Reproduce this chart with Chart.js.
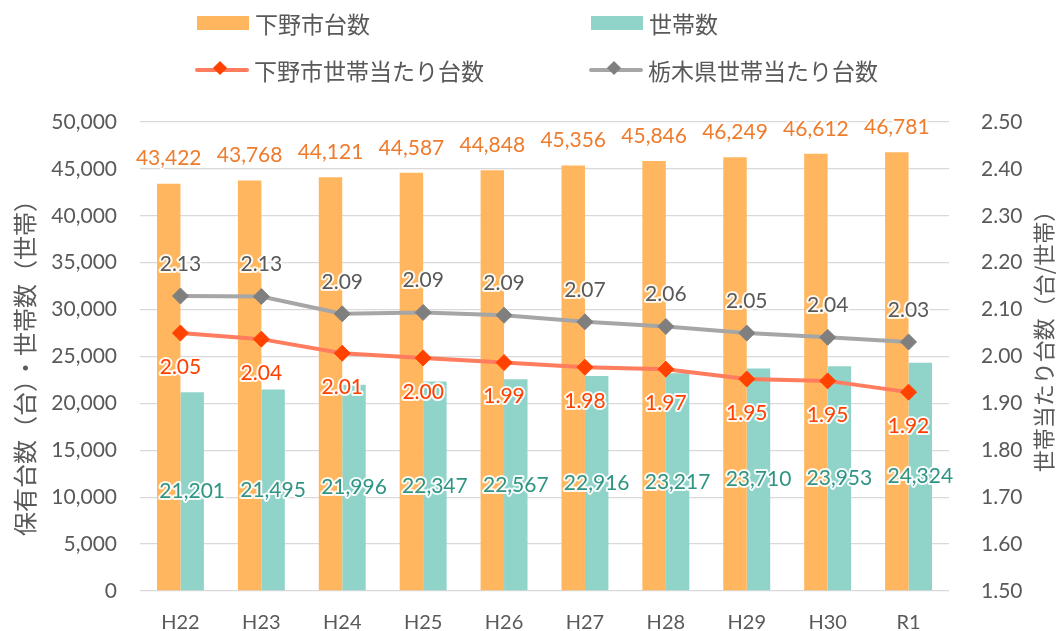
<!DOCTYPE html>
<html lang="ja">
<head>
<meta charset="utf-8">
<title>保有台数・世帯数</title>
<script src="https://cdn.jsdelivr.net/npm/chart.js@4/dist/chart.umd.min.js"></script>
<style>
  body { margin: 0; background: #fff; }
  #wrap { position: relative; width: 1059px; height: 631px; }
  #legend { position: absolute; left: 0; top: 0; width: 1059px; height: 100px; pointer-events: none; }
  .item { position: absolute; display: flex; align-items: center; height: 30px;
          font: 23px 'Noto Sans CJK JP', sans-serif; color: #595959; white-space: nowrap; }
  .box { width: 52px; height: 14px; margin-right: 6px; }
  .ln { position: relative; width: 54px; height: 4px; margin-right: 5px; border-radius: 2px; }
  .ln i { position: absolute; left: 20px; top: -5px; width: 10px; height: 10px; transform: rotate(45deg); }
</style>
</head>
<body>
<div id="wrap">
  <canvas id="chart" width="1059" height="631"></canvas>
  <div id="legend"></div>
</div>
<script>
// ── DATA ────────────────────────────────────────────────────

const years = ['H22', 'H23', 'H24', 'H25', 'H26', 'H27', 'H28', 'H29', 'H30', 'R1'];

const cityCars   = [43422, 43768, 44121, 44587, 44848, 45356, 45846, 46249, 46612, 46781];
const households = [21201, 21495, 21996, 22347, 22567, 22916, 23217, 23710, 23953, 24324];
const cityPerHH  = [2.050, 2.037, 2.007, 1.997, 1.987, 1.977, 1.973, 1.952, 1.948, 1.924];
const prefPerHH  = [2.129, 2.128, 2.091, 2.094, 2.088, 2.074, 2.064, 2.050, 2.041, 2.031];

const seriesNames = ['下野市台数', '世帯数', '下野市世帯当たり台数', '栃木県世帯当たり台数'];

const leftTicks  = { min: 0, max: 50000, step: 5000 };
const rightTicks = { min: 1.5, max: 2.5, step: 0.1 };

const leftTitle  = '保有台数（台）・世帯数（世帯）';
const rightTitle = '世帯当たり台数（台/世帯）';


// ── LABELS PLUGIN ───────────────────────────────────────────

const fmtInt = v => v.toLocaleString('en-US');

const valueLabels = {
  id: 'valueLabels',
  afterDatasetsDraw(chart) {
    const ctx = chart.ctx;
    ctx.save();
    ctx.font = '21px Lato, sans-serif';
    ctx.textAlign = 'center';
    ctx.textBaseline = 'middle';
    ctx.lineJoin = 'round';
    ctx.lineWidth = 4;
    ctx.strokeStyle = 'rgba(255,255,255,0.9)';

    chart.data.datasets.forEach((ds, i) => {
      const meta = chart.getDatasetMeta(i);
      meta.data.forEach((el, j) => {
        const v = ds.data[j];
        let y, text;
        if (i === 0)      { y = el.y - 25; text = fmtInt(v); }
        else if (i === 1) { y = (el.y + el.base) / 2; text = fmtInt(v); }
        else if (i === 2) { y = el.y + 34; text = v.toFixed(2); }
        else              { y = el.y - 32; text = v.toFixed(2); }
        ctx.strokeText(text, el.x, y);
        ctx.fillStyle = ds.labelColor;
        ctx.fillText(text, el.x, y);
      });
    });
    ctx.restore();
  }
};

const axisTitles = {
  id: 'axisTitles',
  afterDraw(chart) {
    const ctx = chart.ctx;
    ctx.save();
    ctx.fillStyle = '#595959';
    ctx.textAlign = 'center';
    ctx.textBaseline = 'middle';
    ctx.font = '24px "Noto Sans CJK JP", sans-serif';
    ctx.translate(25, 362);
    ctx.rotate(-Math.PI / 2);
    ctx.fillText(leftTitle, 0, 0);
    ctx.restore();

    ctx.save();
    ctx.fillStyle = '#595959';
    ctx.textAlign = 'center';
    ctx.textBaseline = 'middle';
    ctx.font = '22px "Noto Sans CJK JP", sans-serif';
    ctx.translate(1044, 336);
    ctx.rotate(-Math.PI / 2);
    ctx.fillText(rightTitle, 0, 0);
    ctx.restore();
  }
};


// ── CHART ───────────────────────────────────────────────────

const tickFont = { family: 'Lato, sans-serif', size: 21 };

const chart = new Chart(document.getElementById('chart'), {
  type: 'bar',
  data: {
    labels: years,
    datasets: [
      {
        label: seriesNames[0],
        data: cityCars,
        backgroundColor: '#ffb65e',
        labelColor: '#ef7b2c',
        yAxisID: 'y',
        order: 2,
        categoryPercentage: 0.58,
        barPercentage: 1.0
      },
      {
        label: seriesNames[1],
        data: households,
        backgroundColor: '#90d3c9',
        labelColor: '#2f9484',
        yAxisID: 'y',
        order: 2,
        categoryPercentage: 0.58,
        barPercentage: 1.0
      },
      {
        type: 'line',
        label: seriesNames[2],
        data: cityPerHH,
        borderColor: '#ff7c5e',
        borderWidth: 4,
        pointStyle: 'rectRot',
        pointRadius: 8,
        pointBackgroundColor: '#ff4200',
        pointBorderColor: '#ff4200',
        pointBorderWidth: 1,
        labelColor: '#ff4000',
        yAxisID: 'y1',
        order: 1
      },
      {
        type: 'line',
        label: seriesNames[3],
        data: prefPerHH,
        borderColor: '#a6a6a6',
        borderWidth: 4,
        pointStyle: 'rectRot',
        pointRadius: 8,
        pointBackgroundColor: '#7f7f7f',
        pointBorderColor: '#7f7f7f',
        pointBorderWidth: 1,
        labelColor: '#595959',
        yAxisID: 'y1',
        order: 0
      }
    ]
  },
  options: {
    responsive: false,
    animation: false,
    layout: { padding: { top: 122, bottom: 0, left: 0, right: 0 } },
    plugins: {
      legend: { display: false },
      tooltip: { enabled: false }
    },
    scales: {
      x: {
        grid: { display: false },
        border: { display: false },
        ticks: { color: '#595959', font: { family: 'Lato, sans-serif', size: 20 }, padding: 12 },
        afterFit(scale) { scale.height = 40; }
      },
      y: {
        position: 'left',
        min: leftTicks.min,
        max: leftTicks.max,
        grid: { color: '#d9d9d9', lineWidth: 1.3, drawTicks: false },
        border: { display: false },
        ticks: {
          stepSize: leftTicks.step,
          color: '#595959',
          font: tickFont,
          padding: 23,
          callback: v => fmtInt(v)
        },
        afterFit(scale) { scale.width = 140; }
      },
      y1: {
        position: 'right',
        min: rightTicks.min,
        max: rightTicks.max,
        grid: { display: false, drawOnChartArea: false },
        border: { display: false },
        ticks: {
          stepSize: rightTicks.step,
          color: '#595959',
          font: tickFont,
          padding: 24,
          callback: v => v.toFixed(2)
        },
        afterFit(scale) { scale.width = 110; }
      }
    }
  },
  plugins: [valueLabels, axisTitles]
});


// ── LEGEND ──────────────────────────────────────────────────

const legendPos = [
  { left: 197, top: 8 },
  { left: 591, top: 8 },
  { left: 195, top: 55 },
  { left: 589, top: 55 }
];

const legend = document.getElementById('legend');
chart.data.datasets.forEach((ds, i) => {
  const item = document.createElement('div');
  item.className = 'item';
  item.style.left = legendPos[i].left + 'px';
  item.style.top = legendPos[i].top + 'px';
  const mark = ds.type === 'line'
    ? `<span class="ln" style="background:${ds.borderColor}"><i style="background:${ds.pointBackgroundColor}"></i></span>`
    : `<span class="box" style="background:${ds.backgroundColor}"></span>`;
  item.innerHTML = mark + `<span>${ds.label}</span>`;
  legend.appendChild(item);
});
</script>
</body>
</html>
